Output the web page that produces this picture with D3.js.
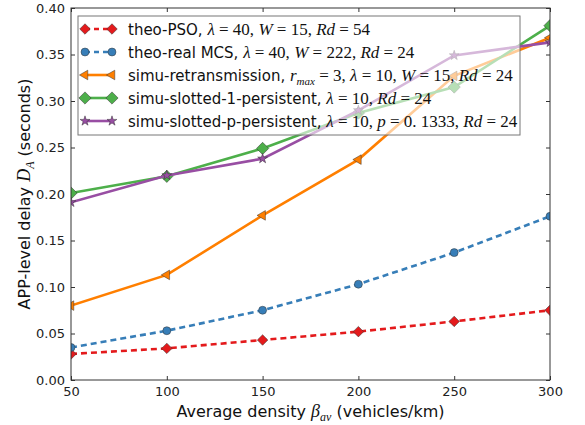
<!DOCTYPE html>
<html>
<head>
<meta charset="utf-8">
<script src="https://cdn.jsdelivr.net/npm/d3@7"></script>
<style>
  body { margin: 0; background: #fff; }
  svg text { font-family: "DejaVu Sans", sans-serif; white-space: pre; }
</style>
</head>
<body>
<div id="chart"></div>
<script>
const density = [50, 100, 150, 200, 250, 300];
const theoPSO = [0.028, 0.034, 0.043, 0.052, 0.063, 0.075];
const theoMCS = [0.035, 0.053, 0.075, 0.103, 0.137, 0.176];
const simuRetrans = [0.080, 0.113, 0.177, 0.237, 0.327, 0.368];
const simuSlotted1 = [0.201, 0.219, 0.249, 0.287, 0.315, 0.381];
const simuSlottedP = [0.191, 0.220, 0.238, 0.290, 0.349, 0.363];
const yTicks = [0, 0.05, 0.1, 0.15, 0.2, 0.25, 0.3, 0.35, 0.4];

// legend labels: [text, style] with style s = sans, m = math italic, r = math roman, sub = subscript
const labels = [
  [["theo-PSO, ", "s"], ["λ", "m"], [" = 40, ", "r"], ["W", "m"], [" = 15, ", "r"], ["Rd", "m"], [" = 54", "r"]],
  [["theo-real MCS, ", "s"], ["λ", "m"], [" = 40, ", "r"], ["W", "m"], [" = 222, ", "r"], ["Rd", "m"], [" = 24", "r"]],
  [["simu-retransmission, ", "s"], ["r", "m"], ["max", "sub"], [" = 3, ", "r"], ["λ", "m"], [" = 10, ", "r"], ["W", "m"], [" = 15, ", "r"], ["Rd", "m"], [" = 24", "r"]],
  [["simu-slotted-1-persistent, ", "s"], ["λ", "m"], [" = 10, ", "r"], ["Rd", "m"], [" = 24", "r"]],
  [["simu-slotted-p-persistent, ", "s"], ["λ", "m"], [" = 10, ", "r"], ["p", "m"], [" = 0. 1333, ", "r"], ["Rd", "m"], [" = 24", "r"]]
];

const series = [
  { values: theoPSO, color: "#e41a1c", dash: "6,4", marker: "diamond", size: 55 },
  { values: theoMCS, color: "#377eb8", dash: "6,4", marker: "circle", size: 50 },
  { values: simuRetrans, color: "#ff7f00", dash: null, marker: "triangle", size: 40 },
  { values: simuSlotted1, color: "#4daf4a", dash: null, marker: "diamond", size: 75 },
  { values: simuSlottedP, color: "#984ea3", dash: null, marker: "star", size: 30 }
];

const width = 585;
const height = 425;
const margin = { top: 8, right: 35, bottom: 45, left: 71 };

const svg = d3.select("#chart").append("svg")
  .attr("width", width)
  .attr("height", height);

const x = d3.scaleLinear()
  .domain([50, 300])
  .range([margin.left, width - margin.right]);

const y = d3.scaleLinear()
  .domain([0, 0.4])
  .range([height - margin.bottom, margin.top]);

svg.append("clipPath").attr("id", "clip")
  .append("rect")
  .attr("x", margin.left).attr("y", margin.top)
  .attr("width", x(300) - x(50)).attr("height", y(0) - y(0.4));

// axes with inward ticks on all four sides
const tickLen = 4;
const styleAxis = (g) => {
  g.select(".domain").remove();
  g.selectAll(".tick line").attr("stroke", "#333");
  g.selectAll(".tick text").attr("font-size", 13).attr("fill", "#222")
    .attr("font-family", "DejaVu Sans, sans-serif");
};

svg.append("g")
  .attr("transform", `translate(0, ${y(0)})`)
  .call(d3.axisBottom(x).tickValues(density).tickSize(-tickLen).tickPadding(7))
  .call(styleAxis);

svg.append("g")
  .attr("transform", `translate(0, ${y(0.4)})`)
  .call(d3.axisTop(x).tickValues(density).tickSize(-tickLen).tickFormat(""))
  .call(styleAxis);

svg.append("g")
  .attr("transform", `translate(${x(50)}, 0)`)
  .call(d3.axisLeft(y).tickValues(yTicks).tickSize(-tickLen).tickPadding(6).tickFormat(d3.format(".2f")))
  .call(styleAxis);

svg.append("g")
  .attr("transform", `translate(${x(300)}, 0)`)
  .call(d3.axisRight(y).tickValues(yTicks).tickSize(-tickLen).tickFormat(""))
  .call(styleAxis);

// lines and markers
const line = d3.line()
  .x((d, i) => x(density[i]))
  .y((d) => y(d));

const plot = svg.append("g").attr("clip-path", "url(#clip)");

const symbolFor = (m, size) => {
  if (m === "diamond") return d3.symbol().type(d3.symbolSquare).size(size)();
  if (m === "circle") return d3.symbol().type(d3.symbolCircle).size(size)();
  if (m === "star") return d3.symbol().type(d3.symbolStar).size(size)();
  return d3.symbol().type(d3.symbolTriangle).size(size)();
};
const rotFor = (m) => (m === "diamond" ? 45 : m === "triangle" ? -90 : 0);

series.forEach((s) => {
  plot.append("path")
    .datum(s.values)
    .attr("d", line)
    .attr("fill", "none")
    .attr("stroke", s.color)
    .attr("stroke-width", 2.6)
    .attr("stroke-dasharray", s.dash);

  plot.selectAll(null)
    .data(s.values)
    .enter()
    .append("path")
    .attr("d", symbolFor(s.marker, s.size))
    .attr("transform", (d, i) => `translate(${x(density[i])},${y(d)}) rotate(${rotFor(s.marker)})`)
    .attr("fill", s.color)
    .attr("stroke", "#333")
    .attr("stroke-width", 0.5);
});

// frame
svg.append("rect")
  .attr("x", x(50)).attr("y", y(0.4))
  .attr("width", x(300) - x(50)).attr("height", y(0) - y(0.4))
  .attr("fill", "none")
  .attr("stroke", "#333")
  .attr("stroke-width", 1);

// legend
const legend = svg.append("g").attr("transform", "translate(78, 16)");
legend.append("rect")
  .attr("width", 442).attr("height", 119)
  .attr("fill", "white").attr("fill-opacity", 0.6)
  .attr("stroke", "#777").attr("stroke-width", 1);

labels.forEach((lab, i) => {
  const s = series[i];
  const row = legend.append("g").attr("transform", `translate(0, ${13 + i * 23})`);
  row.append("line")
    .attr("x1", 7).attr("x2", 34).attr("y1", 0).attr("y2", 0)
    .attr("stroke", s.color).attr("stroke-width", 2.6)
    .attr("stroke-dasharray", s.dash ? "5,4" : null);
  [7, 34].forEach((mx) => {
    row.append("path")
      .attr("d", symbolFor(s.marker, s.size))
      .attr("transform", `translate(${mx},0) rotate(${rotFor(s.marker)})`)
      .attr("fill", s.color).attr("stroke", "#333").attr("stroke-width", 0.5);
  });
  const t = row.append("text")
    .attr("x", 50).attr("y", 5.5)
    .attr("font-size", 15).attr("fill", "#111");
  lab.forEach(([str, st]) => {
    const span = t.append("tspan").text(str);
    if (st !== "s") span.attr("font-family", "Liberation Serif, serif").attr("font-size", 17);
    if (st === "m") span.attr("font-style", "italic");
    if (st === "sub") span.attr("font-style", "italic").attr("font-size", 11).attr("baseline-shift", "-4");
  });
});

// axis labels
const xl = svg.append("text")
  .attr("x", (x(50) + x(300)) / 2).attr("y", 417)
  .attr("text-anchor", "middle").attr("font-size", 16).attr("fill", "#111");
xl.append("tspan").text("Average density ");
xl.append("tspan").text("β").attr("font-family", "Liberation Serif, serif").attr("font-style", "italic").attr("font-size", 18);
xl.append("tspan").text("av").attr("font-family", "Liberation Serif, serif").attr("font-style", "italic").attr("font-size", 12).attr("baseline-shift", "-4");
xl.append("tspan").text(" (vehicles/km)");

const yl = svg.append("text")
  .attr("transform", `translate(30, ${(y(0) + y(0.4)) / 2}) rotate(-90)`)
  .attr("text-anchor", "middle").attr("font-size", 16).attr("fill", "#111");
yl.append("tspan").text("APP-level delay ");
yl.append("tspan").text("D").attr("font-family", "Liberation Serif, serif").attr("font-style", "italic").attr("font-size", 18);
yl.append("tspan").text("A").attr("font-family", "Liberation Serif, serif").attr("font-style", "italic").attr("font-size", 12).attr("baseline-shift", "-4");
yl.append("tspan").text(" (seconds)");
</script>
</body>
</html>
